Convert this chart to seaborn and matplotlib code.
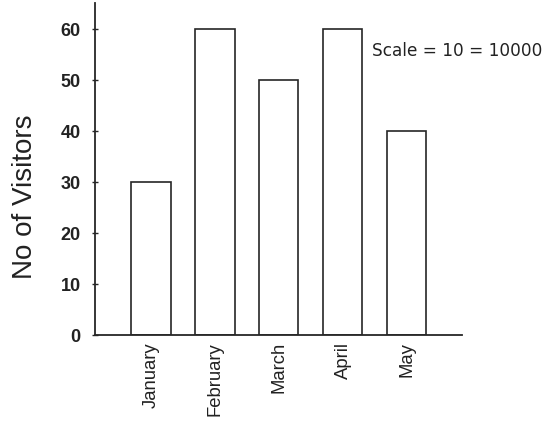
import matplotlib
matplotlib.use("Agg")
import matplotlib.pyplot as plt
import seaborn as sns
import pandas as pd

months = ["January", "February", "March", "April", "May"]
visitors = [30, 60, 50, 60, 40]
yticks = [0, 10, 20, 30, 40, 50, 60]
note = "Scale = 10 = 10000"

sns.set_style("ticks")
plt.rcParams["font.family"] = ["Liberation Sans", "DejaVu Sans"]

df = pd.DataFrame({"month": months, "visitors": visitors})

fig = plt.figure(figsize=(5.49, 4.23), dpi=100)
ax = fig.add_axes([95/549, 1-335/423, (462-95)/549, (335-3)/423])

sns.barplot(data=df, x="month", y="visitors", color="white", edgecolor="#262626",
            linewidth=1.2, width=0.61, saturation=1, ax=ax)

ax.set_xlim(-0.875, 4.86)
ax.set_ylim(0, 65.1)
ax.set_yticks(yticks)
ax.set_yticklabels([str(t) for t in yticks], fontsize=13, fontweight="bold", color="#222222")
ax.tick_params(axis="y", direction="inout", length=4.5, width=1, pad=8, color="#262626")
ax.tick_params(axis="x", length=0, pad=5)
for lbl in ax.get_xticklabels():
    lbl.set_rotation(90)
    lbl.set_fontsize(13.3)
    lbl.set_color("#222222")
ax.set_xlabel("")
ax.set_ylabel("No of Visitors", fontsize=20, color="#222222")
ax.yaxis.set_label_coords(-0.156, 0.417)
for s in ["top", "right"]:
    ax.spines[s].set_visible(False)
for s in ["left", "bottom"]:
    ax.spines[s].set_linewidth(1.3)
    ax.spines[s].set_color("#262626")

fig.text(372/549, 1-51/423, note, fontsize=12.2, family="DejaVu Sans", va="center", ha="left",
         color="#222222")

fig.savefig("out.png", dpi=100)
